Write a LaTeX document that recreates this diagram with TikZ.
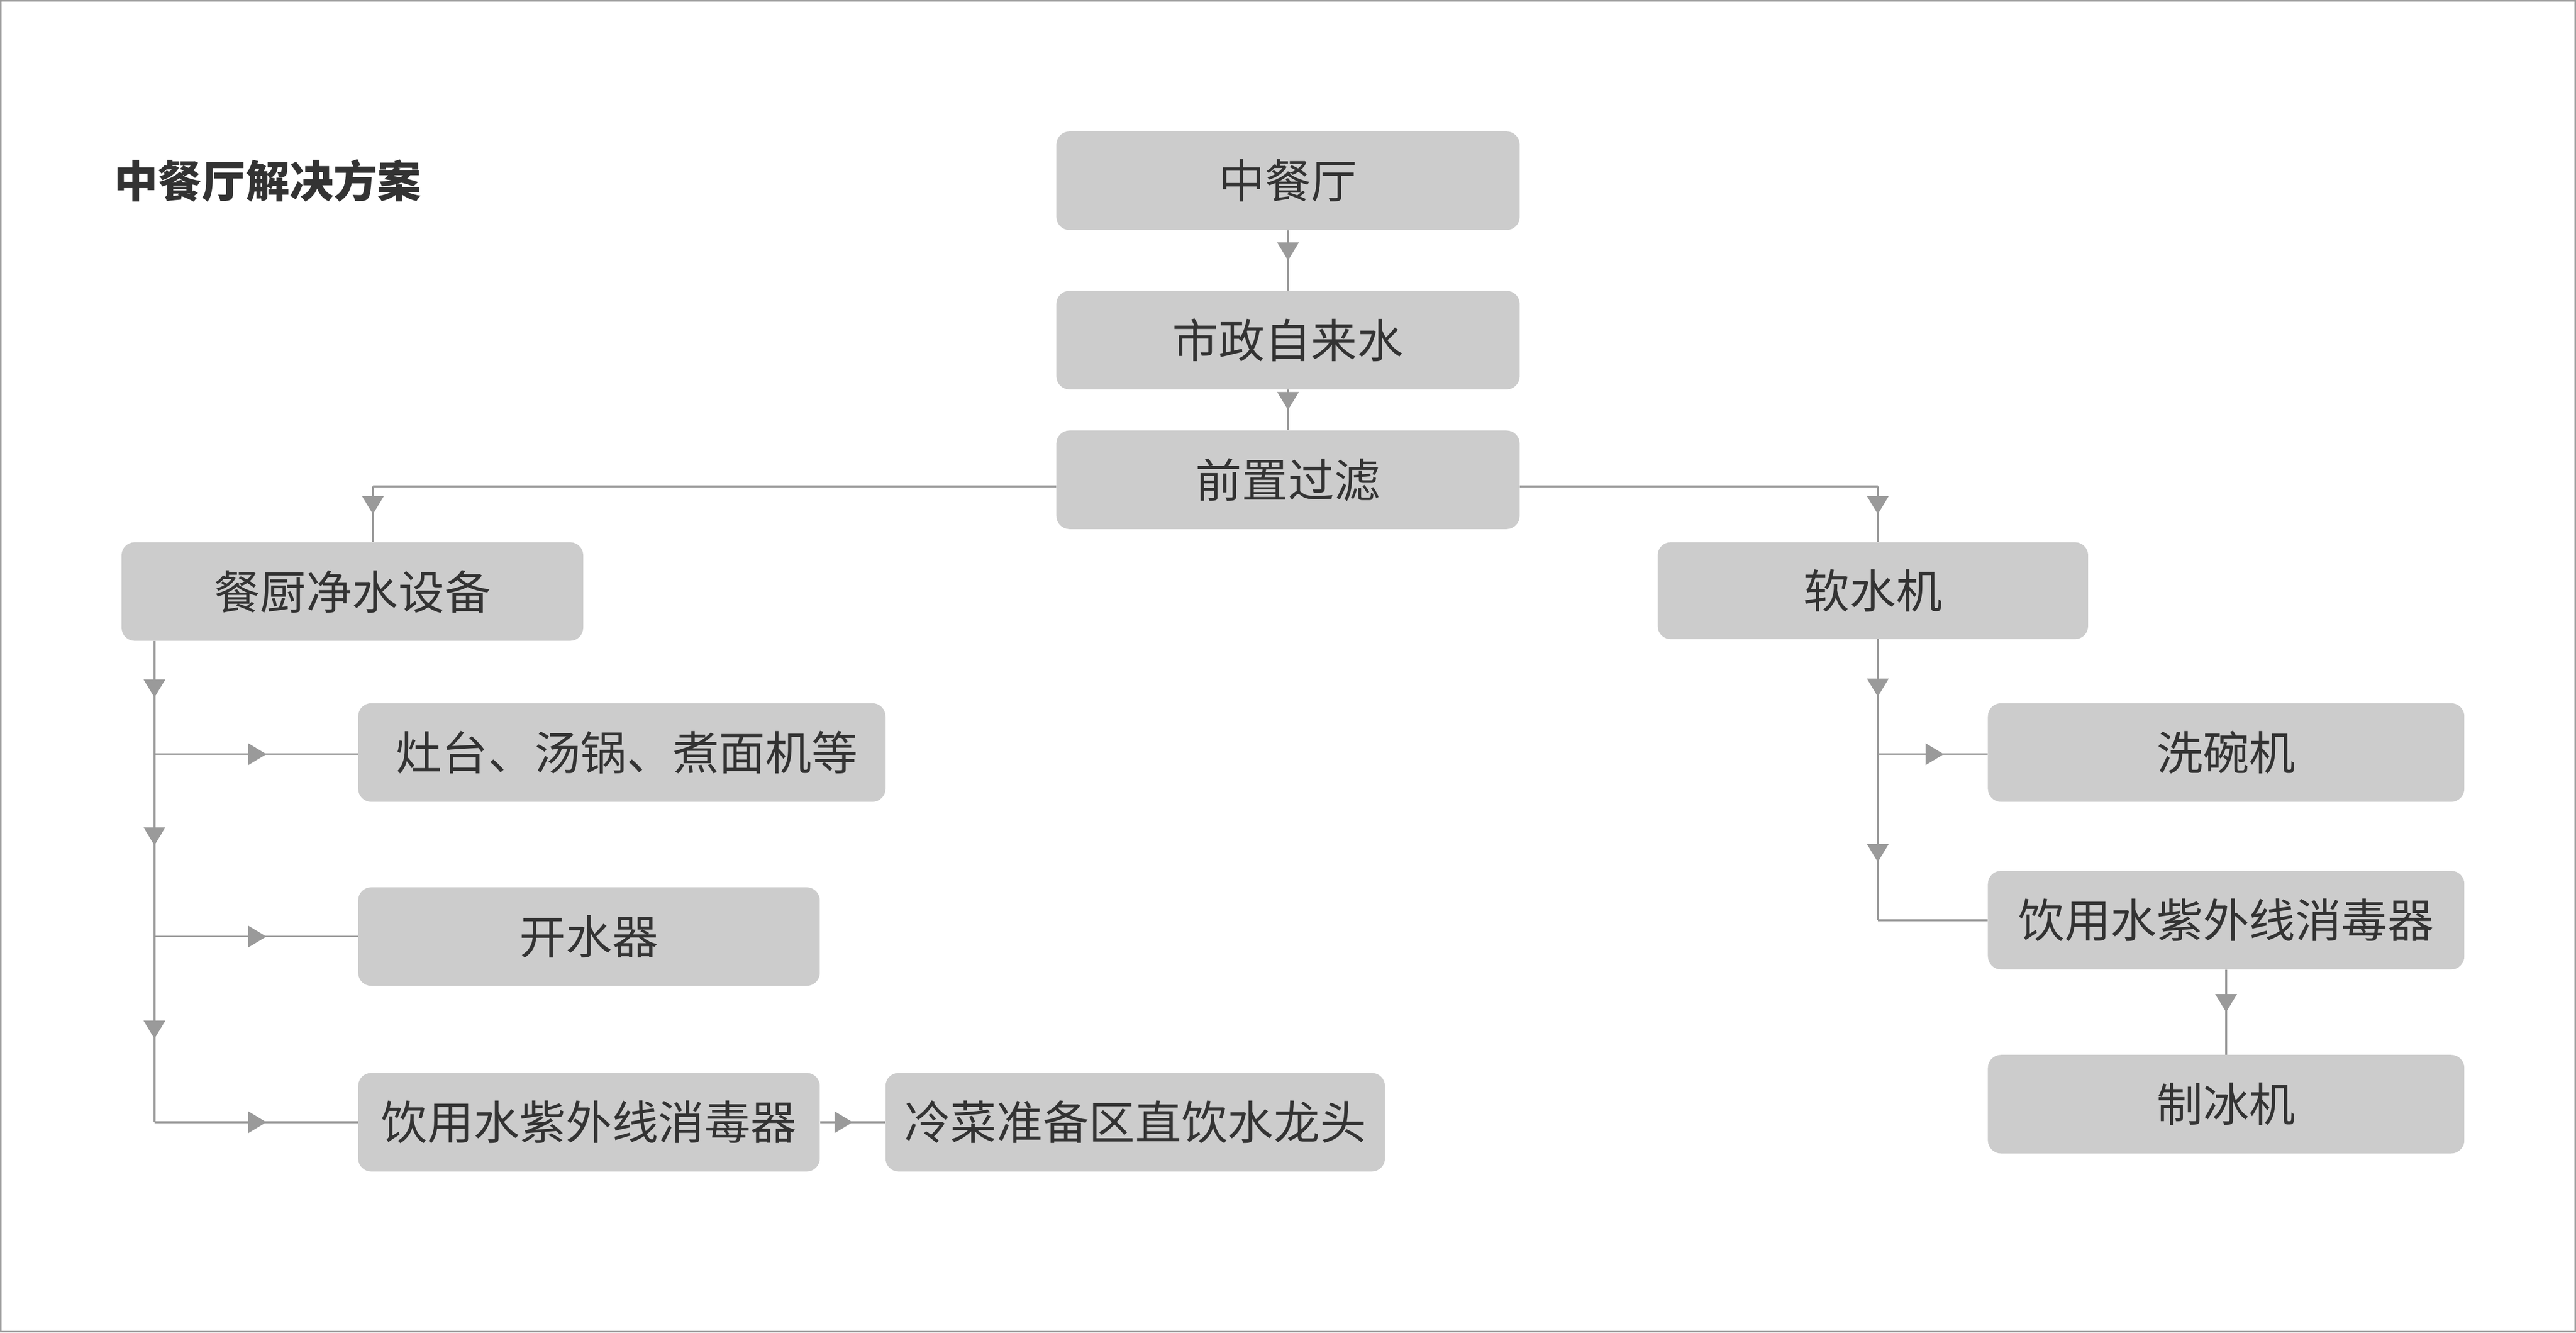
\documentclass[tikz,border=0pt]{standalone}
\usepackage{fontspec}
\setmainfont{Noto Sans CJK SC}
\usetikzlibrary{arrows.meta,decorations.markings}
\definecolor{bx}{HTML}{CCCCCC}
\definecolor{ln}{HTML}{9A9A9A}
\definecolor{tx}{HTML}{333333}
\begin{document}
\begin{tikzpicture}[x=0.05cm,y=-0.05cm,
 box/.style={fill=bx,rounded corners=0.4cm,inner sep=0,text=tx,font=\fontsize{40}{44}\selectfont},
 con/.style={draw=ln,line width=1.6pt},
 mid/.style={con,postaction={decorate},decoration={markings,mark=at position #1 with {\arrow{Triangle[length=0.55cm,width=0.65cm]}}}},
 mid/.default=0.5]
\useasboundingbox (0,0) rectangle (1568,811);
\draw[ln,line width=1.5pt] (0.5,0.5) rectangle (1567.5,810.5);
\node[anchor=west,font=\fontsize{38}{42}\selectfont\bfseries,text=tx] (title) at (67,110) {中餐厅解决方案};
\newcommand\bxx[6]{\node[box,minimum width={(#3-#2)*0.05cm},minimum height={(#5-#4)*0.05cm}] (#1) at ({(#2+#3)/2},{(#4+#5)/2}) {#6};}
\bxx{a}{643}{925}{80}{140}{中餐厅}
\bxx{b}{643}{925}{177}{237}{市政自来水}
\bxx{c}{643}{925}{262}{322}{前置过滤}
\bxx{d}{74}{355}{330}{390}{餐厨净水设备}
\bxx{e}{1009}{1271}{330}{389}{软水机}
\bxx{f}{218}{539}{428}{488}{\hspace{0.3cm}灶台、汤锅、煮面机等}
\bxx{g}{218}{499}{540}{600}{开水器}
\bxx{h}{218}{499}{653}{713}{饮用水紫外线消毒器}
\bxx{i}{539}{843}{653}{713}{冷菜准备区直饮水龙头}
\bxx{j}{1210}{1500}{428}{488}{洗碗机}
\bxx{k}{1210}{1500}{530}{590}{饮用水紫外线消毒器}
\bxx{l}{1210}{1500}{642}{702}{制冰机}
\coordinate (cl) at (227,296);
\coordinate (cr) at (1143,296);
\coordinate (t0) at (94,390);
\coordinate (t1) at (94,459);
\coordinate (t2) at (94,570);
\coordinate (t3) at (94,683);
\coordinate (r0) at (1143,389);
\coordinate (r1) at (1143,459);
\coordinate (r2) at (1143,560);
\draw[mid] (a) -- (b);
\draw[mid] (b) -- (c);
\draw[con] (c.west|-cl) -- (cl);
\draw[mid] (cl) -- (cl|-d.north);
\draw[con] (c.east|-cr) -- (cr);
\draw[mid] (cr) -- (cr|-e.north);
\draw[mid] (t0) -- (t1);
\draw[mid] (t1) -- (t2);
\draw[mid=0.55] (t2) -- (t3);
\draw[mid=0.55] (t1) -- (f.west|-t1);
\draw[mid=0.55] (t2) -- (g.west|-t2);
\draw[mid=0.55] (t3) -- (h.west|-t3);
\draw[mid] (h) -- (i);
\draw[mid] (r0) -- (r1);
\draw[mid=0.65] (r1) -- (r2);
\draw[mid=0.6] (r1) -- (j.west|-r1);
\draw[con] (r2) -- (k.west|-r2);
\draw[mid] (k.south-|l.north) -- (l.north);
\end{tikzpicture}
\end{document}
